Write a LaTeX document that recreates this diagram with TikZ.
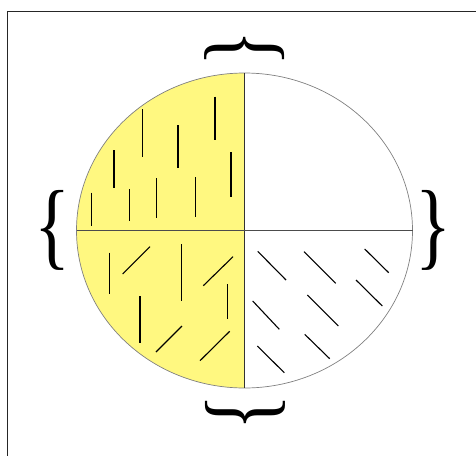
\documentclass[tikz,border=0pt]{standalone}
\usepackage{fontspec}
\newfontfamily\bracefont{Liberation Serif}
\newcommand{\tallbrace}[1]{\resizebox*{36pt}{80pt}{\bracefont #1}}

\begin{document}
\begin{tikzpicture}[x=1pt,y=-1pt,
  oval/.style={x radius=168,y radius=157.5},
  stroke/.style={line width=1.1pt,black},
  divider/.style={line width=0.8pt,black!80},
  brace/.style={inner sep=0pt,outer sep=0pt}]
  \useasboundingbox (0,0) rectangle (476,455);
  \clip (0,0) rectangle (476,455);
  \draw[line width=1pt,black!85] (7,11.5) rectangle (500,480);
  % left half in yellow
  \begin{scope}
    \clip (70,60) rectangle (244.5,400);
    \fill[yellow!50] (244.5,230.5) ellipse [oval];
  \end{scope}
  \draw[black!50,line width=0.7pt] (244.5,230.5) ellipse [oval];
  \coordinate (top) at (244.5,73);
  \coordinate (bottom) at (244.5,388);
  \coordinate (west) at (76.5,230.5);
  \coordinate (east) at (412.5,230.5);
  \draw[divider] (top) -- (bottom);
  \draw[divider,black!70] (west) -- (east);
  % upper left: upright strokes
  \foreach \x/\ya/\yb in {91.7/192.7/225.7, 114/150/188.3, 142.7/109.3/156.7,
      129.7/189.3/220.7, 156.7/178.3/218, 178/125.3/168.3, 195.3/177.3/217,
      215/96.7/140, 231/152/197}
    \draw[stroke] (\x,\ya) -- (\x,\yb);
  % lower left: upright and slanted strokes
  \foreach \x/\ya/\yb in {109.3/252.7/294.3, 181.7/244/301, 140/296/343.3,
      227.7/284/319.3}
    \draw[stroke] (\x,\ya) -- (\x,\yb);
  \foreach \xa/\ya/\xb/\yb in {122.7/274/150/246.7, 203.3/285.7/233/256.7,
      156/352/182/326, 200/360.7/229.7/331.3}
    \draw[stroke] (\xa,\ya) -- (\xb,\yb);
  % lower right: falling strokes
  \foreach \xa/\ya/\xb/\yb in {257.7/251.3/286/280, 304/251.7/335.7/283.3,
      364.7/249/388.7/272.7, 356/280/382.3/306, 252.7/301/279.3/329.3,
      307.3/295/338.3/326, 257.3/346/284.3/372.7, 304.7/334.3/329.7/358.7}
    \draw[stroke] (\xa,\ya) -- (\xb,\yb);
  % braces
  \node[brace] (braceW) at (52.5,230) {\tallbrace{\{}};
  \node[brace] (braceE) at (434,230.5) {\tallbrace{\}}};
  \node[brace,rotate=-90] (braceN) at (245,49) {\tallbrace{\{}};
  \node[brace,rotate=90] (braceS) at (245,412.5) {\tallbrace{\{}};
\end{tikzpicture}
\end{document}
